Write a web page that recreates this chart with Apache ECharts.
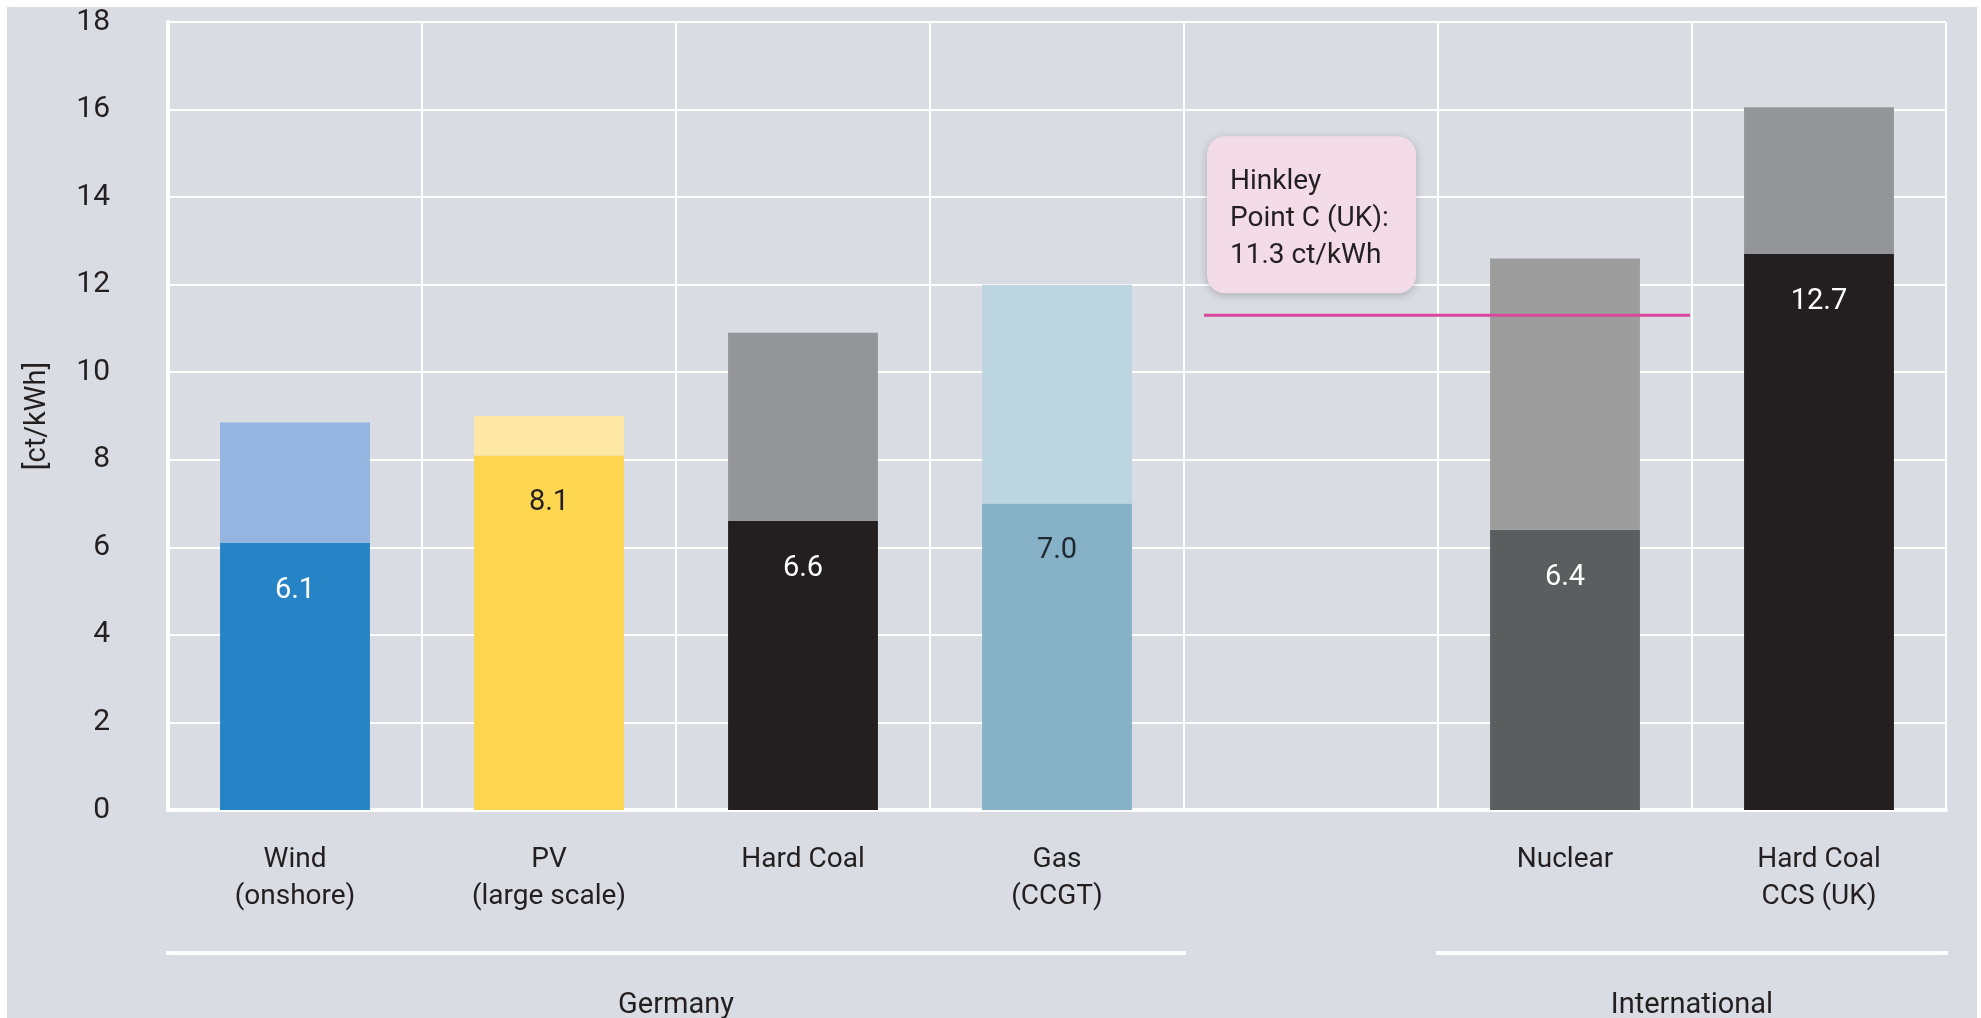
<!DOCTYPE html>
<html>
<head>
<meta charset="utf-8">
<script src="https://cdn.jsdelivr.net/npm/echarts@6/dist/echarts.min.js"></script>
<style>
  html, body { margin: 0; padding: 0; background: #ffffff; }
  #chart { position: absolute; left: 7px; top: 7px; width: 1970px; height: 1011px; background: #d9dce3; }
</style>
</head>
<body>
<div id="chart"></div>
<script>
// Levelised cost of electricity, ct/kWh
const categories = ['Wind\n(onshore)', 'PV\n(large scale)', 'Hard Coal', 'Gas\n(CCGT)', '', 'Nuclear', 'Hard Coal\nCCS (UK)'];
const costLow  = [6.1, 8.1, 6.6, 7.0, null, 6.4, 12.7];
const costHigh = [8.85, 9.0, 10.9, 12.0, null, 12.6, 16.05];

const yMin = 0, yMax = 18, yStep = 2;
const yAxisName = '[ct/kWh]';

// Region brackets under the category axis
const groupNames = ['Germany', 'International'];
const groupFrom  = [0, 5];
const groupTo    = [3, 6];

// Hinkley Point C strike price reference
const hinkleyValue = 11.3;
const hinkleyFrom = 4;
const hinkleyTo = 5;
const hinkleyText = 'Hinkley\nPoint C (UK):\n11.3 ct/kWh';

// Styles
const lowColors   = ['#2683c6', '#ffd64f', '#231f20', '#86b1c7', '#000', '#5a5e5f', '#231f20'];
const highColors  = ['#94b5e0', '#ffe8a5', '#949598', '#bdd5e0', '#000', '#9d9d9d', '#949598'];
const labelColors = ['#ffffff', '#231f20', '#ffffff', '#1f2a30', '#fff', '#ffffff', '#ffffff'];
const FONT = 'Roboto, "Liberation Sans", sans-serif';
const TEXT = '#231f20';

const chart = echarts.init(document.getElementById('chart'), null, { renderer: 'canvas' });

const lowData = costLow.map((v, i) => v == null ? null : {
  value: v,
  itemStyle: { color: lowColors[i] },
  label: { color: labelColors[i] }
});
const highData = costHigh.map((v, i) => v == null ? null : {
  value: +(v - costLow[i]).toFixed(2),
  itemStyle: { color: highColors[i] }
});

const option = {
  backgroundColor: '#d9dce3',
  animation: false,
  grid: { left: 161, right: 31, top: 15, bottom: 208 },
  xAxis: [{
    type: 'category',
    data: categories,
    axisLine: { show: true, lineStyle: { color: '#ffffff', width: 4 } },
    axisTick: { show: false },
    splitLine: { show: true, interval: 0, lineStyle: { color: '#ffffff', width: 2 } },
    axisLabel: { interval: 0, fontFamily: FONT, fontSize: 28, lineHeight: 37, color: TEXT, margin: 31 }
  }],
  yAxis: [{
    type: 'value',
    min: yMin, max: yMax, interval: yStep,
    axisLine: { show: true, lineStyle: { color: '#ffffff', width: 4 } },
    axisTick: { show: false },
    splitLine: { show: true, lineStyle: { color: '#ffffff', width: 2 } },
    axisLabel: { fontFamily: FONT, fontSize: 30, color: TEXT, margin: 58 },
    name: yAxisName,
    nameLocation: 'middle',
    nameGap: 116,
    nameTextStyle: { fontFamily: FONT, fontSize: 29, color: TEXT }
  }],
  series: [
    {
      name: 'low',
      type: 'bar',
      stack: 'cost',
      barWidth: '59%',
      data: lowData,
      label: {
        show: true,
        position: 'insideTop',
        distance: 33,
        fontFamily: FONT,
        fontSize: 29,
        formatter: p => p.value.toFixed(1)
      }
    },
    {
      name: 'high',
      type: 'bar',
      stack: 'cost',
      barWidth: '59%',
      data: highData
    },
    {
      name: 'hinkley',
      type: 'custom',
      clip: false,
      z: 5,
      encode: { x: [0, 1], y: 2 },
      data: [[hinkleyFrom, hinkleyTo, hinkleyValue]],
      renderItem: function (params, api) {
        const bw = api.size([1, 0])[0];
        const y = api.coord([api.value(0), api.value(2)])[1];
        const x0 = api.coord([api.value(0), 0])[0] - bw / 2 + 20;
        const x1 = api.coord([api.value(1), 0])[0] + bw / 2 - 2;
        const boxW = 209, boxH = 157;
        const bx = x0 + 3, by = y - 22 - boxH;
        return {
          type: 'group',
          children: [
            { type: 'line', shape: { x1: x0, y1: y, x2: x1, y2: y },
              style: { stroke: '#d8479a', lineWidth: 3 } },
            { type: 'rect', shape: { x: bx, y: by, width: boxW, height: boxH, r: 18 },
              style: { fill: '#f3dbe7', shadowBlur: 8, shadowOffsetY: 2, shadowColor: 'rgba(0,0,0,0.22)' } },
            { type: 'text', x: bx + 23, y: by + 27,
              style: { text: hinkleyText, fontFamily: FONT, fontSize: 28, lineHeight: 37,
                       fill: TEXT, align: 'left', verticalAlign: 'top' } }
          ]
        };
      }
    },
    {
      name: 'groups',
      type: 'custom',
      clip: false,
      encode: { x: [0, 1], y: 2 },
      data: groupFrom.map((f, i) => [f, groupTo[i], 0]),
      renderItem: function (params, api) {
        const bw = api.size([1, 0])[0];
        const base = api.coord([api.value(0), 0])[1];
        const x0 = api.coord([api.value(0), 0])[0] - bw / 2 - 2;
        const x1 = api.coord([api.value(1), 0])[0] + bw / 2 + 2;
        return {
          type: 'group',
          children: [
            { type: 'line', shape: { x1: x0, y1: base + 143, x2: x1, y2: base + 143 },
              style: { stroke: '#ffffff', lineWidth: 4 } },
            { type: 'text', x: (x0 + x1) / 2, y: base + 196,
              style: { text: groupNames[params.dataIndex], fontFamily: FONT, fontSize: 29,
                       fill: TEXT, align: 'center', verticalAlign: 'middle' } }
          ]
        };
      }
    }
  ]
};

chart.setOption(option);
</script>
</body>
</html>
